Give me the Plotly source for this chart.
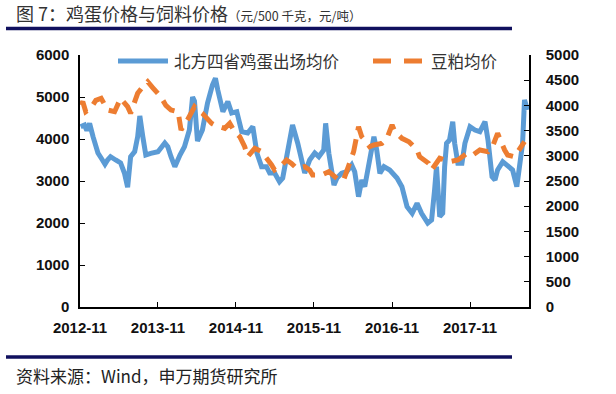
import plotly.graph_objects as go

# ---- data ----
egg_dates = ["2012-11-04","2012-11-22","2012-12-03","2012-12-16","2013-01-01","2013-01-24","2013-02-08","2013-02-26",
             "2013-03-10","2013-03-24","2013-04-17","2013-05-10","2013-05-28","2013-06-12","2013-06-26","2013-07-15",
             "2013-07-29","2013-08-08","2013-08-22","2013-09-05","2013-09-28","2013-11-01","2013-12-03","2013-12-17",
             "2014-01-01","2014-01-19","2014-02-12","2014-03-05","2014-03-28","2014-04-12","2014-04-21","2014-05-05",
             "2014-05-28","2014-06-21","2014-07-14","2014-07-28","2014-08-08","2014-09-01","2014-09-24","2014-10-12",
             "2014-11-05","2014-11-28","2014-12-26","2015-01-19","2015-02-07","2015-03-01","2015-03-24","2015-04-08",
             "2015-05-01","2015-05-24","2015-06-08","2015-07-01","2015-07-24","2015-08-17","2015-09-19","2015-10-12",
             "2015-11-05","2015-11-24","2015-12-17","2015-12-26","2016-01-10","2016-02-03","2016-02-17","2016-03-10",
             "2016-04-03","2016-04-26","2016-05-10","2016-05-28","2016-06-12","2016-06-26","2016-07-19","2016-08-08",
             "2016-08-21","2016-09-05","2016-09-24","2016-10-21","2016-11-24","2016-12-17","2017-01-10","2017-02-03",
             "2017-02-26","2017-03-19","2017-04-17","2017-05-05","2017-05-19","2017-05-28","2017-06-12","2017-06-26",
             "2017-07-05","2017-07-14","2017-07-28","2017-08-12","2017-08-21","2017-09-05","2017-09-24","2017-10-08",
             "2017-11-01","2017-11-24","2017-12-17","2018-01-10","2018-01-24","2018-02-12","2018-02-26","2018-03-10",
             "2018-04-03","2018-04-26","2018-05-19","2018-06-08","2018-06-21","2018-07-05","2018-07-14","2018-07-28"]
egg_price = [4290,4330,4200,4370,4055,3667,3548,3400,
             3500,3579,3500,3429,3190,2850,3579,3698,
             4055,4550,4055,3619,3659,3698,3905,3817,
             3579,3341,3619,3817,4214,5000,4900,3950,
             4214,4857,5286,5445,5167,4650,4889,4619,
             4650,4174,4143,4293,3667,3341,3341,3190,
             3190,2984,3071,3667,4333,3905,3190,3500,
             3667,3579,3738,4373,3659,2905,3071,3183,
             3222,3381,3222,2627,3024,2865,3579,4055,
             3738,3183,3341,3262,3071,2865,2389,2230,
             2468,2230,2000,2071,2786,3341,2151,2230,
             3341,3897,3976,4413,3897,3421,3421,3897,
             4293,4214,4174,4413,3976,3103,3024,3262,
             3460,3341,3262,2865,3421,3897,4929,4690]

meal_dates = ["2012-11-04","2012-11-14","2012-11-28","2012-12-21","2013-01-14","2013-02-08","2013-03-10","2013-04-12",
              "2013-05-10","2013-06-12","2013-06-26","2013-07-29","2013-08-22","2013-09-14","2013-10-08","2013-11-01",
              "2013-11-14","2013-12-08","2014-01-01","2014-02-03","2014-02-17","2014-03-19","2014-04-21","2014-05-05",
              "2014-05-28","2014-07-10","2014-07-24","2014-09-10","2014-10-03","2014-10-26","2014-11-19","2014-12-12",
              "2014-12-26","2015-01-28","2015-03-01","2015-04-17","2015-05-01","2015-06-03","2015-06-26","2015-07-19",
              "2015-08-12","2015-09-19","2015-10-12","2015-10-26","2015-12-08","2016-01-10","2016-02-26","2016-03-19",
              "2016-04-12","2016-05-05","2016-05-28","2016-06-12","2016-06-26","2016-07-19","2016-08-08","2016-09-14",
              "2016-10-08","2016-11-01","2016-11-14","2016-12-17","2017-01-19","2017-02-26","2017-03-10","2017-04-21",
              "2017-05-05","2017-06-12","2017-07-28","2017-09-05","2017-10-17","2017-11-14","2017-12-17","2018-01-24",
              "2018-02-17","2018-03-10","2018-04-12","2018-04-26","2018-05-28","2018-06-21","2018-07-14"]
meal_price = [4008,4073,3875,3942,4100,4141,3909,3875,
              4141,3974,3843,4240,4371,4470,4350,4240,
              4173,4000,3909,3875,3512,3710,3974,3909,
              3843,3644,3611,3545,3644,3478,3379,3181,
              2982,3148,3082,2817,2718,2817,2916,2850,
              2751,2784,2718,2619,2619,2685,2520,2520,
              2817,3082,3578,3379,3313,3181,3214,3247,
              3347,3611,3478,3347,3280,3115,2982,2850,
              2718,2950,2883,2916,3049,3016,3115,3082,
              3214,3446,3115,3016,2982,3115,3280]

tick_dates = ["2012-11-01","2013-11-01","2014-11-01","2015-11-01","2016-11-01","2017-11-01"]
tick_labels = ["2012-11","2013-11","2014-11","2015-11","2016-11","2017-11"]
left_ticks = [0,1000,2000,3000,4000,5000,6000]
right_ticks = [0,500,1000,1500,2000,2500,3000,3500,4000,4500,5000]

series_names = ["北方四省鸡蛋出场均价", "豆粕均价"]
title_main = "图 7：鸡蛋价格与饲料价格"
title_sub = "（元/500 千克，元/吨）"
source_text = "资料来源：Wind，申万期货研究所"

BLUE = "#5b9bd5"
ORANGE = "#ed7d31"
NAVY = "#10105e"
CJK = "Noto Sans CJK SC"
NUM = "Liberation Sans"

fig = go.Figure()
fig.add_trace(go.Scatter(x=egg_dates, y=egg_price, mode="lines", name=series_names[0],
                         line=dict(color=BLUE, width=5), yaxis="y", showlegend=False))
fig.add_trace(go.Scatter(x=meal_dates, y=meal_price, mode="lines", name=series_names[1],
                         line=dict(color=ORANGE, width=5, dash="16px,9px"), yaxis="y2", showlegend=False))

tickfont = dict(family=NUM, size=15, color="#111", weight="bold")

fig.update_layout(
    width=616, height=394,
    margin=dict(l=80, r=87, t=55, b=87),
    paper_bgcolor="white", plot_bgcolor="white",
    xaxis=dict(type="date", range=["2012-11-01", "2018-08-04"],
               tickvals=tick_dates, ticktext=tick_labels,
               ticks="inside", ticklen=5, tickcolor="black",
               showline=True, linecolor="black", linewidth=1.5,
               showgrid=False, zeroline=False, tickfont=tickfont,
               ticklabelstandoff=6),
    yaxis=dict(range=[0, 6000], tickvals=left_ticks, ticks="inside", ticklen=5,
               tickcolor="black", showline=True, linecolor="black", linewidth=1.5,
               showgrid=False, zeroline=False, tickfont=tickfont, ticklabelstandoff=6),
    yaxis2=dict(range=[0, 5000], tickvals=right_ticks, ticks="inside", ticklen=5,
                tickcolor="black", showline=True, linecolor="black", linewidth=1.5,
                showgrid=False, zeroline=False, tickfont=tickfont,
                overlaying="y", side="right", ticklabelstandoff=12),
)

def px_x(px):
    return (px - 80) / 449.0

def px_y(py):
    return (307 - py) / 252.0

shapes = [
    dict(type="line", xref="paper", yref="paper", x0=px_x(6), x1=px_x(512), y0=px_y(28.5), y1=px_y(28.5),
         line=dict(color=NAVY, width=3.5)),
    dict(type="line", xref="paper", yref="paper", x0=px_x(6), x1=px_x(512), y0=px_y(357), y1=px_y(357),
         line=dict(color=NAVY, width=3.5)),
    dict(type="line", xref="paper", yref="paper", x0=px_x(118), x1=px_x(168), y0=px_y(61), y1=px_y(61),
         line=dict(color=BLUE, width=5)),
    dict(type="line", xref="paper", yref="paper", x0=px_x(373), x1=px_x(422), y0=px_y(61), y1=px_y(61),
         line=dict(color=ORANGE, width=5, dash="18px,13px")),
]
annotations = [
    dict(xref="paper", yref="paper", x=px_x(14), y=px_y(13), xanchor="left", yanchor="middle", showarrow=False,
         text=title_main + "<span style='font-size:12.5px'>" + title_sub + "</span>",
         font=dict(family=CJK, size=18, color="#333")),
    dict(xref="paper", yref="paper", x=px_x(14), y=px_y(375), xanchor="left", yanchor="middle", showarrow=False,
         text=source_text, font=dict(family=CJK, size=17, color="#222")),
    dict(xref="paper", yref="paper", x=px_x(172), y=px_y(61), xanchor="left", yanchor="middle", showarrow=False,
         text=series_names[0], font=dict(family=CJK, size=16.5, color="#333")),
    dict(xref="paper", yref="paper", x=px_x(429), y=px_y(61), xanchor="left", yanchor="middle", showarrow=False,
         text=series_names[1], font=dict(family=CJK, size=16.5, color="#333")),
]
fig.update_layout(shapes=shapes, annotations=annotations)

fig.write_html("out.html", config={"displayModeBar": False},
               post_script="document.body.style.margin='0';document.body.style.overflow='hidden';")
